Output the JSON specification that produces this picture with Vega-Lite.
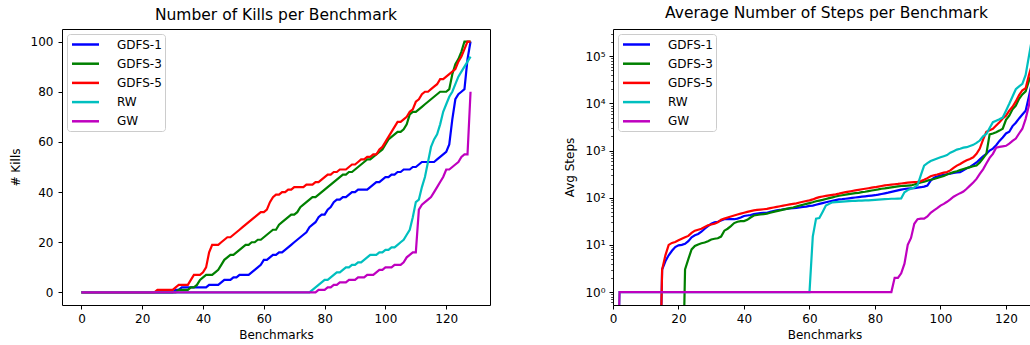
{
"$schema": "https://vega.github.io/schema/vega-lite/v6.json",
"padding": {"left": 8, "top": 6, "right": 0, "bottom": 0},
"spacing": 72,
"datasets": {
"kills": [
{"b":0,"GDFS-1":0,"GDFS-3":0,"GDFS-5":0,"RW":0,"GW":0},
{"b":1,"GDFS-1":0,"GDFS-3":0,"GDFS-5":0,"RW":0,"GW":0},
{"b":2,"GDFS-1":0,"GDFS-3":0,"GDFS-5":0,"RW":0,"GW":0},
{"b":3,"GDFS-1":0,"GDFS-3":0,"GDFS-5":0,"RW":0,"GW":0},
{"b":4,"GDFS-1":0,"GDFS-3":0,"GDFS-5":0,"RW":0,"GW":0},
{"b":5,"GDFS-1":0,"GDFS-3":0,"GDFS-5":0,"RW":0,"GW":0},
{"b":6,"GDFS-1":0,"GDFS-3":0,"GDFS-5":0,"RW":0,"GW":0},
{"b":7,"GDFS-1":0,"GDFS-3":0,"GDFS-5":0,"RW":0,"GW":0},
{"b":8,"GDFS-1":0,"GDFS-3":0,"GDFS-5":0,"RW":0,"GW":0},
{"b":9,"GDFS-1":0,"GDFS-3":0,"GDFS-5":0,"RW":0,"GW":0},
{"b":10,"GDFS-1":0,"GDFS-3":0,"GDFS-5":0,"RW":0,"GW":0},
{"b":11,"GDFS-1":0,"GDFS-3":0,"GDFS-5":0,"RW":0,"GW":0},
{"b":12,"GDFS-1":0,"GDFS-3":0,"GDFS-5":0,"RW":0,"GW":0},
{"b":13,"GDFS-1":0,"GDFS-3":0,"GDFS-5":0,"RW":0,"GW":0},
{"b":14,"GDFS-1":0,"GDFS-3":0,"GDFS-5":0,"RW":0,"GW":0},
{"b":15,"GDFS-1":0,"GDFS-3":0,"GDFS-5":0,"RW":0,"GW":0},
{"b":16,"GDFS-1":0,"GDFS-3":0,"GDFS-5":0,"RW":0,"GW":0},
{"b":17,"GDFS-1":0,"GDFS-3":0,"GDFS-5":0,"RW":0,"GW":0},
{"b":18,"GDFS-1":0,"GDFS-3":0,"GDFS-5":0,"RW":0,"GW":0},
{"b":19,"GDFS-1":0,"GDFS-3":0,"GDFS-5":0,"RW":0,"GW":0},
{"b":20,"GDFS-1":0,"GDFS-3":0,"GDFS-5":0,"RW":0,"GW":0},
{"b":21,"GDFS-1":0,"GDFS-3":0,"GDFS-5":0,"RW":0,"GW":0},
{"b":22,"GDFS-1":0,"GDFS-3":0,"GDFS-5":0,"RW":0,"GW":0},
{"b":23,"GDFS-1":0,"GDFS-3":0,"GDFS-5":0,"RW":0,"GW":0},
{"b":24,"GDFS-1":0,"GDFS-3":0,"GDFS-5":0,"RW":0,"GW":0},
{"b":25,"GDFS-1":0,"GDFS-3":0,"GDFS-5":1,"RW":0,"GW":0},
{"b":26,"GDFS-1":0,"GDFS-3":0,"GDFS-5":1,"RW":0,"GW":0},
{"b":27,"GDFS-1":0,"GDFS-3":0,"GDFS-5":1,"RW":0,"GW":0},
{"b":28,"GDFS-1":0,"GDFS-3":0,"GDFS-5":1,"RW":0,"GW":0},
{"b":29,"GDFS-1":0,"GDFS-3":0,"GDFS-5":1,"RW":0,"GW":0},
{"b":30,"GDFS-1":0,"GDFS-3":0,"GDFS-5":1,"RW":0,"GW":0},
{"b":31,"GDFS-1":1,"GDFS-3":0,"GDFS-5":2,"RW":0,"GW":0},
{"b":32,"GDFS-1":1,"GDFS-3":1,"GDFS-5":3,"RW":0,"GW":0},
{"b":33,"GDFS-1":2,"GDFS-3":1,"GDFS-5":3,"RW":0,"GW":0},
{"b":34,"GDFS-1":2,"GDFS-3":1,"GDFS-5":3,"RW":0,"GW":0},
{"b":35,"GDFS-1":2,"GDFS-3":1,"GDFS-5":3,"RW":0,"GW":0},
{"b":36,"GDFS-1":2,"GDFS-3":2,"GDFS-5":5,"RW":0,"GW":0},
{"b":37,"GDFS-1":2,"GDFS-3":2,"GDFS-5":7,"RW":0,"GW":0},
{"b":38,"GDFS-1":2,"GDFS-3":3,"GDFS-5":7,"RW":0,"GW":0},
{"b":39,"GDFS-1":2,"GDFS-3":5,"GDFS-5":7,"RW":0,"GW":0},
{"b":40,"GDFS-1":2,"GDFS-3":6,"GDFS-5":8,"RW":0,"GW":0},
{"b":41,"GDFS-1":2,"GDFS-3":7,"GDFS-5":10,"RW":0,"GW":0},
{"b":42,"GDFS-1":3,"GDFS-3":7,"GDFS-5":16,"RW":0,"GW":0},
{"b":43,"GDFS-1":3,"GDFS-3":7,"GDFS-5":19,"RW":0,"GW":0},
{"b":44,"GDFS-1":3,"GDFS-3":8,"GDFS-5":19,"RW":0,"GW":0},
{"b":45,"GDFS-1":3,"GDFS-3":9,"GDFS-5":19,"RW":0,"GW":0},
{"b":46,"GDFS-1":4,"GDFS-3":11,"GDFS-5":20,"RW":0,"GW":0},
{"b":47,"GDFS-1":5,"GDFS-3":13,"GDFS-5":21,"RW":0,"GW":0},
{"b":48,"GDFS-1":5,"GDFS-3":14,"GDFS-5":22,"RW":0,"GW":0},
{"b":49,"GDFS-1":5,"GDFS-3":15,"GDFS-5":22,"RW":0,"GW":0},
{"b":50,"GDFS-1":6,"GDFS-3":15,"GDFS-5":23,"RW":0,"GW":0},
{"b":51,"GDFS-1":6,"GDFS-3":16,"GDFS-5":24,"RW":0,"GW":0},
{"b":52,"GDFS-1":7,"GDFS-3":17,"GDFS-5":25,"RW":0,"GW":0},
{"b":53,"GDFS-1":7,"GDFS-3":18,"GDFS-5":26,"RW":0,"GW":0},
{"b":54,"GDFS-1":7,"GDFS-3":19,"GDFS-5":27,"RW":0,"GW":0},
{"b":55,"GDFS-1":7,"GDFS-3":19,"GDFS-5":28,"RW":0,"GW":0},
{"b":56,"GDFS-1":8,"GDFS-3":20,"GDFS-5":29,"RW":0,"GW":0},
{"b":57,"GDFS-1":9,"GDFS-3":20,"GDFS-5":30,"RW":0,"GW":0},
{"b":58,"GDFS-1":10,"GDFS-3":21,"GDFS-5":31,"RW":0,"GW":0},
{"b":59,"GDFS-1":11,"GDFS-3":21,"GDFS-5":32,"RW":0,"GW":0},
{"b":60,"GDFS-1":13,"GDFS-3":22,"GDFS-5":32,"RW":0,"GW":0},
{"b":61,"GDFS-1":13,"GDFS-3":23,"GDFS-5":33,"RW":0,"GW":0},
{"b":62,"GDFS-1":14,"GDFS-3":24,"GDFS-5":36,"RW":0,"GW":0},
{"b":63,"GDFS-1":15,"GDFS-3":25,"GDFS-5":38,"RW":0,"GW":0},
{"b":64,"GDFS-1":15,"GDFS-3":25,"GDFS-5":39,"RW":0,"GW":0},
{"b":65,"GDFS-1":16,"GDFS-3":27,"GDFS-5":39,"RW":0,"GW":0},
{"b":66,"GDFS-1":16,"GDFS-3":28,"GDFS-5":40,"RW":0,"GW":0},
{"b":67,"GDFS-1":17,"GDFS-3":29,"GDFS-5":40,"RW":0,"GW":0},
{"b":68,"GDFS-1":18,"GDFS-3":30,"GDFS-5":41,"RW":0,"GW":0},
{"b":69,"GDFS-1":19,"GDFS-3":31,"GDFS-5":41,"RW":0,"GW":0},
{"b":70,"GDFS-1":20,"GDFS-3":31,"GDFS-5":42,"RW":0,"GW":0},
{"b":71,"GDFS-1":21,"GDFS-3":32,"GDFS-5":42,"RW":0,"GW":0},
{"b":72,"GDFS-1":22,"GDFS-3":34,"GDFS-5":42,"RW":0,"GW":0},
{"b":73,"GDFS-1":23,"GDFS-3":35,"GDFS-5":42,"RW":0,"GW":0},
{"b":74,"GDFS-1":24,"GDFS-3":36,"GDFS-5":43,"RW":0,"GW":0},
{"b":75,"GDFS-1":26,"GDFS-3":37,"GDFS-5":43,"RW":0,"GW":0},
{"b":76,"GDFS-1":27,"GDFS-3":38,"GDFS-5":43,"RW":1,"GW":0},
{"b":77,"GDFS-1":28,"GDFS-3":38,"GDFS-5":44,"RW":2,"GW":0},
{"b":78,"GDFS-1":30,"GDFS-3":39,"GDFS-5":44,"RW":3,"GW":1},
{"b":79,"GDFS-1":31,"GDFS-3":40,"GDFS-5":45,"RW":4,"GW":1},
{"b":80,"GDFS-1":31,"GDFS-3":41,"GDFS-5":46,"RW":5,"GW":1},
{"b":81,"GDFS-1":33,"GDFS-3":42,"GDFS-5":47,"RW":5,"GW":2},
{"b":82,"GDFS-1":34,"GDFS-3":43,"GDFS-5":47,"RW":6,"GW":2},
{"b":83,"GDFS-1":36,"GDFS-3":44,"GDFS-5":48,"RW":7,"GW":3},
{"b":84,"GDFS-1":37,"GDFS-3":45,"GDFS-5":48,"RW":8,"GW":3},
{"b":85,"GDFS-1":37,"GDFS-3":46,"GDFS-5":49,"RW":8,"GW":4},
{"b":86,"GDFS-1":38,"GDFS-3":47,"GDFS-5":49,"RW":9,"GW":4},
{"b":87,"GDFS-1":38,"GDFS-3":47,"GDFS-5":49,"RW":10,"GW":4},
{"b":88,"GDFS-1":39,"GDFS-3":48,"GDFS-5":50,"RW":10,"GW":5},
{"b":89,"GDFS-1":40,"GDFS-3":48,"GDFS-5":51,"RW":11,"GW":5},
{"b":90,"GDFS-1":40,"GDFS-3":49,"GDFS-5":51,"RW":11,"GW":5},
{"b":91,"GDFS-1":41,"GDFS-3":50,"GDFS-5":52,"RW":12,"GW":6},
{"b":92,"GDFS-1":41,"GDFS-3":51,"GDFS-5":53,"RW":12,"GW":6},
{"b":93,"GDFS-1":41,"GDFS-3":52,"GDFS-5":53,"RW":13,"GW":6},
{"b":94,"GDFS-1":41,"GDFS-3":53,"GDFS-5":54,"RW":14,"GW":7},
{"b":95,"GDFS-1":42,"GDFS-3":53,"GDFS-5":54,"RW":15,"GW":7},
{"b":96,"GDFS-1":43,"GDFS-3":54,"GDFS-5":55,"RW":15,"GW":7},
{"b":97,"GDFS-1":44,"GDFS-3":55,"GDFS-5":55,"RW":15,"GW":8},
{"b":98,"GDFS-1":44,"GDFS-3":56,"GDFS-5":57,"RW":16,"GW":9},
{"b":99,"GDFS-1":45,"GDFS-3":57,"GDFS-5":58,"RW":16,"GW":9},
{"b":100,"GDFS-1":46,"GDFS-3":59,"GDFS-5":60,"RW":17,"GW":10},
{"b":101,"GDFS-1":46,"GDFS-3":61,"GDFS-5":62,"RW":17,"GW":10},
{"b":102,"GDFS-1":47,"GDFS-3":62,"GDFS-5":64,"RW":18,"GW":10},
{"b":103,"GDFS-1":47,"GDFS-3":63,"GDFS-5":66,"RW":18,"GW":11},
{"b":104,"GDFS-1":48,"GDFS-3":64,"GDFS-5":68,"RW":19,"GW":11},
{"b":105,"GDFS-1":48,"GDFS-3":64,"GDFS-5":68,"RW":20,"GW":11},
{"b":106,"GDFS-1":49,"GDFS-3":65,"GDFS-5":69,"RW":21,"GW":12},
{"b":107,"GDFS-1":49,"GDFS-3":67,"GDFS-5":70,"RW":23,"GW":14},
{"b":108,"GDFS-1":49,"GDFS-3":71,"GDFS-5":72,"RW":25,"GW":15},
{"b":109,"GDFS-1":50,"GDFS-3":72,"GDFS-5":73,"RW":30,"GW":16},
{"b":110,"GDFS-1":50,"GDFS-3":72,"GDFS-5":76,"RW":36,"GW":16},
{"b":111,"GDFS-1":51,"GDFS-3":73,"GDFS-5":77,"RW":37,"GW":33},
{"b":112,"GDFS-1":52,"GDFS-3":74,"GDFS-5":79,"RW":42,"GW":35},
{"b":113,"GDFS-1":52,"GDFS-3":75,"GDFS-5":80,"RW":46,"GW":36},
{"b":114,"GDFS-1":52,"GDFS-3":76,"GDFS-5":80,"RW":52,"GW":37},
{"b":115,"GDFS-1":52,"GDFS-3":77,"GDFS-5":81,"RW":58,"GW":38},
{"b":116,"GDFS-1":52,"GDFS-3":78,"GDFS-5":82,"RW":61,"GW":40},
{"b":117,"GDFS-1":53,"GDFS-3":79,"GDFS-5":83,"RW":63,"GW":42},
{"b":118,"GDFS-1":54,"GDFS-3":80,"GDFS-5":85,"RW":67,"GW":44},
{"b":119,"GDFS-1":55,"GDFS-3":80,"GDFS-5":85,"RW":72,"GW":46},
{"b":120,"GDFS-1":56,"GDFS-3":80,"GDFS-5":86,"RW":75,"GW":49},
{"b":121,"GDFS-1":59,"GDFS-3":81,"GDFS-5":87,"RW":78,"GW":49},
{"b":122,"GDFS-1":69,"GDFS-3":87,"GDFS-5":88,"RW":80,"GW":50},
{"b":123,"GDFS-1":77,"GDFS-3":91,"GDFS-5":89,"RW":83,"GW":51},
{"b":124,"GDFS-1":79,"GDFS-3":93,"GDFS-5":92,"RW":86,"GW":52},
{"b":125,"GDFS-1":80,"GDFS-3":96,"GDFS-5":94,"RW":88,"GW":54},
{"b":126,"GDFS-1":81,"GDFS-3":100,"GDFS-5":97,"RW":90,"GW":55},
{"b":127,"GDFS-1":93,"GDFS-3":100,"GDFS-5":100,"RW":92,"GW":55},
{"b":128,"GDFS-1":100,"GDFS-3":100,"GDFS-5":100,"RW":94,"GW":80}
],
"steps": [
{"b":0,"GDFS-1":0.001,"GDFS-3":0.001,"GDFS-5":0.001,"RW":0.001,"GW":0.001},
{"b":1,"GDFS-1":0.001,"GDFS-3":0.001,"GDFS-5":0.001,"RW":0.001,"GW":0.001},
{"b":2,"GDFS-1":0.001,"GDFS-3":0.001,"GDFS-5":0.001,"RW":1,"GW":1},
{"b":3,"GDFS-1":0.001,"GDFS-3":0.001,"GDFS-5":0.001,"RW":1,"GW":1},
{"b":4,"GDFS-1":0.001,"GDFS-3":0.001,"GDFS-5":0.001,"RW":1,"GW":1},
{"b":5,"GDFS-1":0.001,"GDFS-3":0.001,"GDFS-5":0.001,"RW":1,"GW":1},
{"b":6,"GDFS-1":0.001,"GDFS-3":0.001,"GDFS-5":0.001,"RW":1,"GW":1},
{"b":7,"GDFS-1":0.001,"GDFS-3":0.001,"GDFS-5":0.001,"RW":1,"GW":1},
{"b":8,"GDFS-1":0.001,"GDFS-3":0.001,"GDFS-5":0.001,"RW":1,"GW":1},
{"b":9,"GDFS-1":0.001,"GDFS-3":0.001,"GDFS-5":0.001,"RW":1,"GW":1},
{"b":10,"GDFS-1":0.001,"GDFS-3":0.001,"GDFS-5":0.001,"RW":1,"GW":1},
{"b":11,"GDFS-1":0.001,"GDFS-3":0.001,"GDFS-5":0.001,"RW":1,"GW":1},
{"b":12,"GDFS-1":0.001,"GDFS-3":0.001,"GDFS-5":0.001,"RW":1,"GW":1},
{"b":13,"GDFS-1":0.001,"GDFS-3":0.001,"GDFS-5":0.001,"RW":1,"GW":1},
{"b":14,"GDFS-1":0.001,"GDFS-3":0.001,"GDFS-5":0.001,"RW":1,"GW":1},
{"b":15,"GDFS-1":3,"GDFS-3":0.001,"GDFS-5":3,"RW":1,"GW":1},
{"b":16,"GDFS-1":4.5,"GDFS-3":0.001,"GDFS-5":6,"RW":1,"GW":1},
{"b":17,"GDFS-1":6,"GDFS-3":0.001,"GDFS-5":10,"RW":1,"GW":1},
{"b":18,"GDFS-1":7.5,"GDFS-3":0.001,"GDFS-5":11,"RW":1,"GW":1},
{"b":19,"GDFS-1":9,"GDFS-3":0.001,"GDFS-5":11.5,"RW":1,"GW":1},
{"b":20,"GDFS-1":9.8,"GDFS-3":0.001,"GDFS-5":12.5,"RW":1,"GW":1},
{"b":21,"GDFS-1":10,"GDFS-3":0.001,"GDFS-5":13.5,"RW":1,"GW":1},
{"b":22,"GDFS-1":10.5,"GDFS-3":3,"GDFS-5":14.5,"RW":1,"GW":1},
{"b":23,"GDFS-1":12,"GDFS-3":5,"GDFS-5":15.5,"RW":1,"GW":1},
{"b":24,"GDFS-1":14.5,"GDFS-3":8,"GDFS-5":18,"RW":1,"GW":1},
{"b":25,"GDFS-1":16,"GDFS-3":9.5,"GDFS-5":20,"RW":1,"GW":1},
{"b":26,"GDFS-1":17,"GDFS-3":10.2,"GDFS-5":21,"RW":1,"GW":1},
{"b":27,"GDFS-1":19,"GDFS-3":10.8,"GDFS-5":22,"RW":1,"GW":1},
{"b":28,"GDFS-1":22,"GDFS-3":11.2,"GDFS-5":24,"RW":1,"GW":1},
{"b":29,"GDFS-1":25,"GDFS-3":12,"GDFS-5":26,"RW":1,"GW":1},
{"b":30,"GDFS-1":28,"GDFS-3":13,"GDFS-5":27,"RW":1,"GW":1},
{"b":31,"GDFS-1":30,"GDFS-3":13.5,"GDFS-5":28,"RW":1,"GW":1},
{"b":32,"GDFS-1":31,"GDFS-3":13.8,"GDFS-5":30,"RW":1,"GW":1},
{"b":33,"GDFS-1":33,"GDFS-3":15,"GDFS-5":34,"RW":1,"GW":1},
{"b":34,"GDFS-1":35,"GDFS-3":20,"GDFS-5":36,"RW":1,"GW":1},
{"b":35,"GDFS-1":35,"GDFS-3":22,"GDFS-5":38,"RW":1,"GW":1},
{"b":36,"GDFS-1":35,"GDFS-3":25,"GDFS-5":40,"RW":1,"GW":1},
{"b":37,"GDFS-1":35,"GDFS-3":29,"GDFS-5":42,"RW":1,"GW":1},
{"b":38,"GDFS-1":36,"GDFS-3":31,"GDFS-5":44,"RW":1,"GW":1},
{"b":39,"GDFS-1":38,"GDFS-3":32,"GDFS-5":46,"RW":1,"GW":1},
{"b":40,"GDFS-1":41,"GDFS-3":32,"GDFS-5":48,"RW":1,"GW":1},
{"b":41,"GDFS-1":42,"GDFS-3":34,"GDFS-5":50,"RW":1,"GW":1},
{"b":42,"GDFS-1":43,"GDFS-3":38,"GDFS-5":52,"RW":1,"GW":1},
{"b":43,"GDFS-1":45,"GDFS-3":42,"GDFS-5":54,"RW":1,"GW":1},
{"b":44,"GDFS-1":46,"GDFS-3":43,"GDFS-5":55,"RW":1,"GW":1},
{"b":45,"GDFS-1":47,"GDFS-3":44,"GDFS-5":56,"RW":1,"GW":1},
{"b":46,"GDFS-1":48,"GDFS-3":45,"GDFS-5":57,"RW":1,"GW":1},
{"b":47,"GDFS-1":48,"GDFS-3":46,"GDFS-5":58,"RW":1,"GW":1},
{"b":48,"GDFS-1":50,"GDFS-3":48,"GDFS-5":60,"RW":1,"GW":1},
{"b":49,"GDFS-1":52,"GDFS-3":50,"GDFS-5":62,"RW":1,"GW":1},
{"b":50,"GDFS-1":54,"GDFS-3":52,"GDFS-5":64,"RW":1,"GW":1},
{"b":51,"GDFS-1":55,"GDFS-3":54,"GDFS-5":66,"RW":1,"GW":1},
{"b":52,"GDFS-1":57,"GDFS-3":56,"GDFS-5":68,"RW":1,"GW":1},
{"b":53,"GDFS-1":58,"GDFS-3":58,"GDFS-5":70,"RW":1,"GW":1},
{"b":54,"GDFS-1":59,"GDFS-3":60,"GDFS-5":72,"RW":1,"GW":1},
{"b":55,"GDFS-1":60,"GDFS-3":62,"GDFS-5":74,"RW":1,"GW":1},
{"b":56,"GDFS-1":61,"GDFS-3":65,"GDFS-5":76,"RW":1,"GW":1},
{"b":57,"GDFS-1":62,"GDFS-3":68,"GDFS-5":79,"RW":1,"GW":1},
{"b":58,"GDFS-1":64,"GDFS-3":71,"GDFS-5":82,"RW":1,"GW":1},
{"b":59,"GDFS-1":65,"GDFS-3":74,"GDFS-5":85,"RW":1,"GW":1},
{"b":60,"GDFS-1":67,"GDFS-3":77,"GDFS-5":88,"RW":1,"GW":1},
{"b":61,"GDFS-1":68,"GDFS-3":80,"GDFS-5":92,"RW":15,"GW":1},
{"b":62,"GDFS-1":71,"GDFS-3":84,"GDFS-5":98,"RW":36,"GW":1},
{"b":63,"GDFS-1":74,"GDFS-3":87,"GDFS-5":103,"RW":37,"GW":1},
{"b":64,"GDFS-1":77,"GDFS-3":90,"GDFS-5":106,"RW":50,"GW":1},
{"b":65,"GDFS-1":80,"GDFS-3":94,"GDFS-5":109,"RW":68,"GW":1},
{"b":66,"GDFS-1":83,"GDFS-3":98,"GDFS-5":112,"RW":74,"GW":1},
{"b":67,"GDFS-1":86,"GDFS-3":102,"GDFS-5":115,"RW":80,"GW":1},
{"b":68,"GDFS-1":89,"GDFS-3":106,"GDFS-5":118,"RW":81,"GW":1},
{"b":69,"GDFS-1":92,"GDFS-3":110,"GDFS-5":122,"RW":82,"GW":1},
{"b":70,"GDFS-1":93,"GDFS-3":113,"GDFS-5":127,"RW":83,"GW":1},
{"b":71,"GDFS-1":95,"GDFS-3":116,"GDFS-5":131,"RW":84,"GW":1},
{"b":72,"GDFS-1":97,"GDFS-3":119,"GDFS-5":135,"RW":85,"GW":1},
{"b":73,"GDFS-1":99,"GDFS-3":122,"GDFS-5":139,"RW":86,"GW":1},
{"b":74,"GDFS-1":101,"GDFS-3":125,"GDFS-5":143,"RW":86,"GW":1},
{"b":75,"GDFS-1":103,"GDFS-3":127,"GDFS-5":147,"RW":87,"GW":1},
{"b":76,"GDFS-1":105,"GDFS-3":131,"GDFS-5":151,"RW":87,"GW":1},
{"b":77,"GDFS-1":107,"GDFS-3":134,"GDFS-5":155,"RW":88,"GW":1},
{"b":78,"GDFS-1":109,"GDFS-3":138,"GDFS-5":159,"RW":88,"GW":1},
{"b":79,"GDFS-1":111,"GDFS-3":142,"GDFS-5":163,"RW":89,"GW":1},
{"b":80,"GDFS-1":113,"GDFS-3":146,"GDFS-5":167,"RW":90,"GW":1},
{"b":81,"GDFS-1":116,"GDFS-3":150,"GDFS-5":172,"RW":91,"GW":1},
{"b":82,"GDFS-1":120,"GDFS-3":155,"GDFS-5":177,"RW":92,"GW":1},
{"b":83,"GDFS-1":124,"GDFS-3":158,"GDFS-5":182,"RW":93,"GW":1},
{"b":84,"GDFS-1":128,"GDFS-3":162,"GDFS-5":186,"RW":94,"GW":1},
{"b":85,"GDFS-1":133,"GDFS-3":166,"GDFS-5":190,"RW":95,"GW":1},
{"b":86,"GDFS-1":138,"GDFS-3":170,"GDFS-5":193,"RW":95,"GW":2},
{"b":87,"GDFS-1":143,"GDFS-3":174,"GDFS-5":196,"RW":96,"GW":2},
{"b":88,"GDFS-1":148,"GDFS-3":177,"GDFS-5":200,"RW":97,"GW":2.5},
{"b":89,"GDFS-1":153,"GDFS-3":179,"GDFS-5":204,"RW":130,"GW":4},
{"b":90,"GDFS-1":156,"GDFS-3":181,"GDFS-5":208,"RW":145,"GW":10},
{"b":91,"GDFS-1":158,"GDFS-3":182,"GDFS-5":212,"RW":155,"GW":14},
{"b":92,"GDFS-1":160,"GDFS-3":190,"GDFS-5":215,"RW":165,"GW":28},
{"b":93,"GDFS-1":163,"GDFS-3":200,"GDFS-5":218,"RW":185,"GW":35},
{"b":94,"GDFS-1":167,"GDFS-3":210,"GDFS-5":225,"RW":300,"GW":36},
{"b":95,"GDFS-1":172,"GDFS-3":218,"GDFS-5":240,"RW":480,"GW":36},
{"b":96,"GDFS-1":180,"GDFS-3":230,"GDFS-5":260,"RW":540,"GW":40},
{"b":97,"GDFS-1":230,"GDFS-3":240,"GDFS-5":285,"RW":600,"GW":48},
{"b":98,"GDFS-1":265,"GDFS-3":250,"GDFS-5":300,"RW":640,"GW":54},
{"b":99,"GDFS-1":280,"GDFS-3":262,"GDFS-5":310,"RW":680,"GW":60},
{"b":100,"GDFS-1":295,"GDFS-3":275,"GDFS-5":325,"RW":720,"GW":68},
{"b":101,"GDFS-1":305,"GDFS-3":290,"GDFS-5":340,"RW":760,"GW":74},
{"b":102,"GDFS-1":315,"GDFS-3":310,"GDFS-5":350,"RW":800,"GW":82},
{"b":103,"GDFS-1":325,"GDFS-3":330,"GDFS-5":380,"RW":900,"GW":92},
{"b":104,"GDFS-1":335,"GDFS-3":349,"GDFS-5":430,"RW":970,"GW":105},
{"b":105,"GDFS-1":345,"GDFS-3":365,"GDFS-5":480,"RW":1050,"GW":115},
{"b":106,"GDFS-1":350,"GDFS-3":385,"GDFS-5":520,"RW":1090,"GW":125},
{"b":107,"GDFS-1":380,"GDFS-3":405,"GDFS-5":570,"RW":1150,"GW":135},
{"b":108,"GDFS-1":420,"GDFS-3":424,"GDFS-5":620,"RW":1180,"GW":155},
{"b":109,"GDFS-1":450,"GDFS-3":445,"GDFS-5":660,"RW":1250,"GW":180},
{"b":110,"GDFS-1":500,"GDFS-3":465,"GDFS-5":720,"RW":1320,"GW":210},
{"b":111,"GDFS-1":560,"GDFS-3":483,"GDFS-5":850,"RW":1450,"GW":250},
{"b":112,"GDFS-1":650,"GDFS-3":560,"GDFS-5":1100,"RW":1630,"GW":320},
{"b":113,"GDFS-1":750,"GDFS-3":680,"GDFS-5":1700,"RW":2000,"GW":400},
{"b":114,"GDFS-1":850,"GDFS-3":850,"GDFS-5":2500,"RW":2250,"GW":530},
{"b":115,"GDFS-1":1000,"GDFS-3":2200,"GDFS-5":2700,"RW":3000,"GW":700},
{"b":116,"GDFS-1":1100,"GDFS-3":2300,"GDFS-5":2900,"RW":4000,"GW":850},
{"b":117,"GDFS-1":1300,"GDFS-3":2450,"GDFS-5":3400,"RW":4300,"GW":1150},
{"b":118,"GDFS-1":1600,"GDFS-3":2650,"GDFS-5":4000,"RW":4600,"GW":1200},
{"b":119,"GDFS-1":1900,"GDFS-3":2900,"GDFS-5":4800,"RW":5000,"GW":1230},
{"b":120,"GDFS-1":2300,"GDFS-3":4500,"GDFS-5":5500,"RW":7000,"GW":1260},
{"b":121,"GDFS-1":2500,"GDFS-3":5500,"GDFS-5":7000,"RW":9800,"GW":1400},
{"b":122,"GDFS-1":3300,"GDFS-3":7500,"GDFS-5":8500,"RW":14000,"GW":1600},
{"b":123,"GDFS-1":3900,"GDFS-3":9000,"GDFS-5":11000,"RW":20000,"GW":1800},
{"b":124,"GDFS-1":4800,"GDFS-3":12500,"GDFS-5":15000,"RW":23000,"GW":2300},
{"b":125,"GDFS-1":5800,"GDFS-3":15500,"GDFS-5":19000,"RW":26000,"GW":2900},
{"b":126,"GDFS-1":7000,"GDFS-3":18000,"GDFS-5":21000,"RW":40000,"GW":4700},
{"b":127,"GDFS-1":14000,"GDFS-3":30000,"GDFS-5":40000,"RW":100000,"GW":9000},
{"b":128,"GDFS-1":30000,"GDFS-3":45000,"GDFS-5":70000,"RW":250000,"GW":30000}
]
},
"hconcat": [
{
"width": 428,
"height": 276,
"title": "Number of Kills per Benchmark",
"data": {"name": "kills"},
"transform": [{"fold": ["GDFS-1","GDFS-3","GDFS-5","RW","GW"], "as": ["series","v"]}],
"mark": {"type": "line", "strokeWidth": 2.2},
"encoding": {
"x": {"field": "b", "type": "quantitative", "scale": {"domain": [-6.4, 134.4], "nice": false, "zero": false},
"axis": {"values": [0,20,40,60,80,100,120], "title": "Benchmarks", "titlePadding": 5.5, "labelFlush": false}},
"y": {"field": "v", "type": "quantitative", "scale": {"domain": [-5, 105], "nice": false, "zero": false},
"axis": {"values": [0,20,40,60,80,100], "title": "# Kills", "titlePadding": 8, "labelPadding": 5, "minExtent": 32, "maxExtent": 32}},
"color": {"field": "series", "type": "nominal",
"scale": {"domain": ["GDFS-1","GDFS-3","GDFS-5","RW","GW"], "range": ["#0000ff","#008000","#ff0000","#00bfbf","#bf00bf"]},
"legend": {"title": null}}
}
},
{
"width": 417,
"height": 276,
"title": {"text": "Average Number of Steps per Benchmark", "dx": 5},
"view": {"stroke": null},
"data": {"name": "steps"},
"transform": [{"fold": ["GDFS-1","GDFS-3","GDFS-5","RW","GW"], "as": ["series","v"]}],
"layer": [
{
"mark": {"type": "line", "strokeWidth": 2.2, "clip": true},
"encoding": {
"x": {"field": "b", "type": "quantitative", "scale": {"domain": [0, 127.33], "nice": false, "zero": false},
"axis": {"orient": "bottom", "values": [0,20,40,60,80,100,120], "title": "Benchmarks", "titlePadding": 5.5, "labelFlush": false, "domain": true, "domainColor": "#000000", "domainWidth": 1, "titleX": 211.5}},
"y": {"field": "v", "type": "quantitative", "scale": {"type": "log", "domain": [0.531, 378000], "nice": false},
"axis": {"values": [0.6,0.7,0.8,0.9,1,2,3,4,5,6,7,8,9,10,20,30,40,50,60,70,80,90,100,200,300,400,500,600,700,800,900,1000,2000,3000,4000,5000,6000,7000,8000,9000,10000,20000,30000,40000,50000,60000,70000,80000,90000,100000,200000,300000],
"labelExpr": "abs(log(datum.value)/LN10 - round(log(datum.value)/LN10)) < 0.001 ? '10' + ['⁰','¹','²','³','⁴','⁵'][round(log(datum.value)/LN10)] : ''",
"tickSize": {"condition": {"test": "abs(log(datum.value)/LN10 - round(log(datum.value)/LN10)) < 0.001", "value": 4}, "value": 2.4},
"tickWidth": {"condition": {"test": "abs(log(datum.value)/LN10 - round(log(datum.value)/LN10)) < 0.001", "value": 1}, "value": 0.7},
"title": "Avg Steps", "titlePadding": 8.7, "labelPadding": 4, "minExtent": 28, "maxExtent": 28,
"domain": true, "domainColor": "#000000", "domainWidth": 1}},
"color": {"field": "series", "type": "nominal",
"scale": {"domain": ["GDFS-1","GDFS-3","GDFS-5","RW","GW"], "range": ["#0000ff","#008000","#ff0000","#00bfbf","#bf00bf"]},
"legend": {"title": null}}
}
},
{
"mark": {"type": "line", "strokeOpacity": 0, "clip": true},
"encoding": {
"x": {"field": "b", "type": "quantitative", "axis": {"orient": "top", "labels": false, "ticks": false, "domain": true, "domainColor": "#000000", "domainWidth": 1, "title": null}}
}
}
]
}
],
"resolve": {"legend": {"color": "independent"}},
"config": {
"font": "DejaVu Sans",
"view": {"stroke": "#000000", "strokeWidth": 1},
"axis": {"grid": false, "domain": false, "tickColor": "#000000", "tickSize": 4, "tickWidth": 1, "labelColor": "#000000", "labelFontSize": 12, "labelFont": "DejaVu Sans", "titleFont": "DejaVu Sans", "titleFontSize": 12, "titleFontWeight": "normal", "titleColor": "#000000", "labelPadding": 4, "labelOverlap": false},
"title": {"font": "DejaVu Sans", "fontSize": 15.5, "fontWeight": "normal", "color": "#000000", "offset": 6},
"legend": {"orient": "top-left", "offset": 5, "padding": 3, "strokeColor": "#cccccc", "fillColor": "#ffffff", "cornerRadius": 3, "symbolType": "M-2.25,0H2.25", "symbolStrokeWidth": 2.5, "symbolSize": 144, "symbolOffset": 8, "labelFontSize": 12, "labelFont": "DejaVu Sans", "labelColor": "#000000", "labelOffset": 24, "rowPadding": 5.2}
}
}
